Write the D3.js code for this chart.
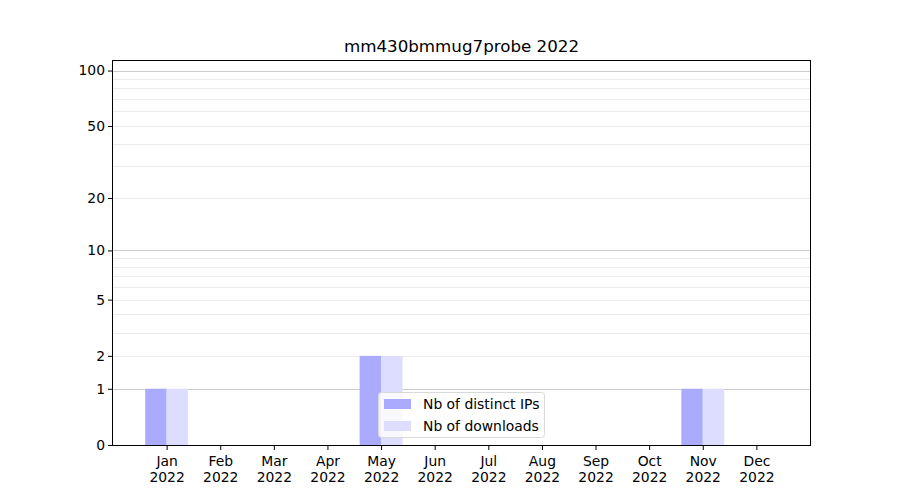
<!DOCTYPE html>
<html><head><meta charset="utf-8">
<script src="https://cdn.jsdelivr.net/npm/d3@7"></script>
<style>body{margin:0;background:#fff;} text{font-family:"DejaVu Sans",sans-serif;}</style>
</head><body><svg id="c" width="900" height="500"></svg>
<script>
const months = ["Jan","Feb","Mar","Apr","May","Jun","Jul","Aug","Sep","Oct","Nov","Dec"];
const yearLabel = "2022";
const distinctIPs = [1,0,0,0,2,0,0,0,0,0,1,0];
const downloads   = [1,0,0,0,2,0,0,0,0,0,1,0];
const yTicks = [0,1,2,5,10,20,50,100];
const majorGrid = [1,10,100];
const minorGrid = [2,3,4,5,6,7,8,9,20,30,40,50,60,70,80,90];
const title = "mm430bmmug7probe 2022";
const seriesNames = ["Nb of distinct IPs","Nb of downloads"];
const colors = ["#aaaaff","#ddddff"];

const L=113,R=810,T=60,B=445;
const svg=d3.select("#c");
const x=d3.scaleLinear().domain([-1,12]).range([L,R]);
const y=d3.scaleSymlog().constant(1).domain([0,114]).range([B,T]);
const step=x(1)-x(0);

svg.append("text").attr("x",(L+R)/2).attr("y",52).attr("text-anchor","middle")
  .attr("font-size","16.7px").attr("fill","#000").text(title);

const g=svg.append("g");
g.selectAll(".mg").data(minorGrid).join("line")
  .attr("x1",L).attr("x2",R).attr("y1",d=>Math.round(y(d))+0.5).attr("y2",d=>Math.round(y(d))+0.5)
  .attr("stroke","#ebebeb").attr("stroke-width",1);
g.selectAll(".Mg").data(majorGrid).join("line")
  .attr("x1",L).attr("x2",R).attr("y1",d=>Math.round(y(d))+0.5).attr("y2",d=>Math.round(y(d))+0.5)
  .attr("stroke","#cccccc").attr("stroke-width",1);

const series=[distinctIPs,downloads];
series.forEach((vals,si)=>{
  g.selectAll(".b"+si).data(vals).join("rect")
   .attr("x",(d,i)=>x(i)-0.4*step+si*0.4*step)
   .attr("width",0.4*step)
   .attr("y",d=>y(d)).attr("height",d=>B-y(d))
   .attr("fill",colors[si]);
});

svg.append("rect").attr("x",L-0.5).attr("y",T+0.5).attr("width",R-L+1).attr("height",B-T)
  .attr("fill","none").attr("stroke","#000").attr("stroke-width",1);

const xa=svg.append("g").attr("transform",`translate(0,${B})`)
  .call(d3.axisBottom(x).tickValues(d3.range(12)).tickSize(5).tickFormat(""));
xa.select(".domain").remove();
xa.selectAll(".tick").each(function(d){
  const t=d3.select(this);
  t.append("text").attr("y",21).attr("fill","#000").attr("font-size","13.9px").attr("text-anchor","middle").text(months[d]);
  t.append("text").attr("y",37).attr("fill","#000").attr("font-size","13.9px").attr("text-anchor","middle").text(yearLabel);
});

const ya=svg.append("g").attr("transform",`translate(${L},0)`)
  .call(d3.axisLeft(y).tickValues(yTicks).tickSize(5).tickFormat(d3.format("d")));
ya.select(".domain").remove();
ya.selectAll("text").attr("font-size","13.9px").attr("fill","#000").attr("font-family","DejaVu Sans").attr("x",-8);

const lg=svg.append("g");
lg.append("rect").attr("x",378.5).attr("y",392.5).attr("width",166).attr("height",45).attr("rx",3)
  .attr("fill","#fff").attr("fill-opacity",0.8).attr("stroke","#d9d9d9");
seriesNames.forEach((n,i)=>{
  lg.append("rect").attr("x",384).attr("y",399+i*22).attr("width",27).attr("height",10).attr("fill",colors[i]);
  lg.append("text").attr("x",423).attr("y",408.5+i*22).attr("font-size","13.9px").attr("fill","#000").text(n);
});
</script></body></html>
